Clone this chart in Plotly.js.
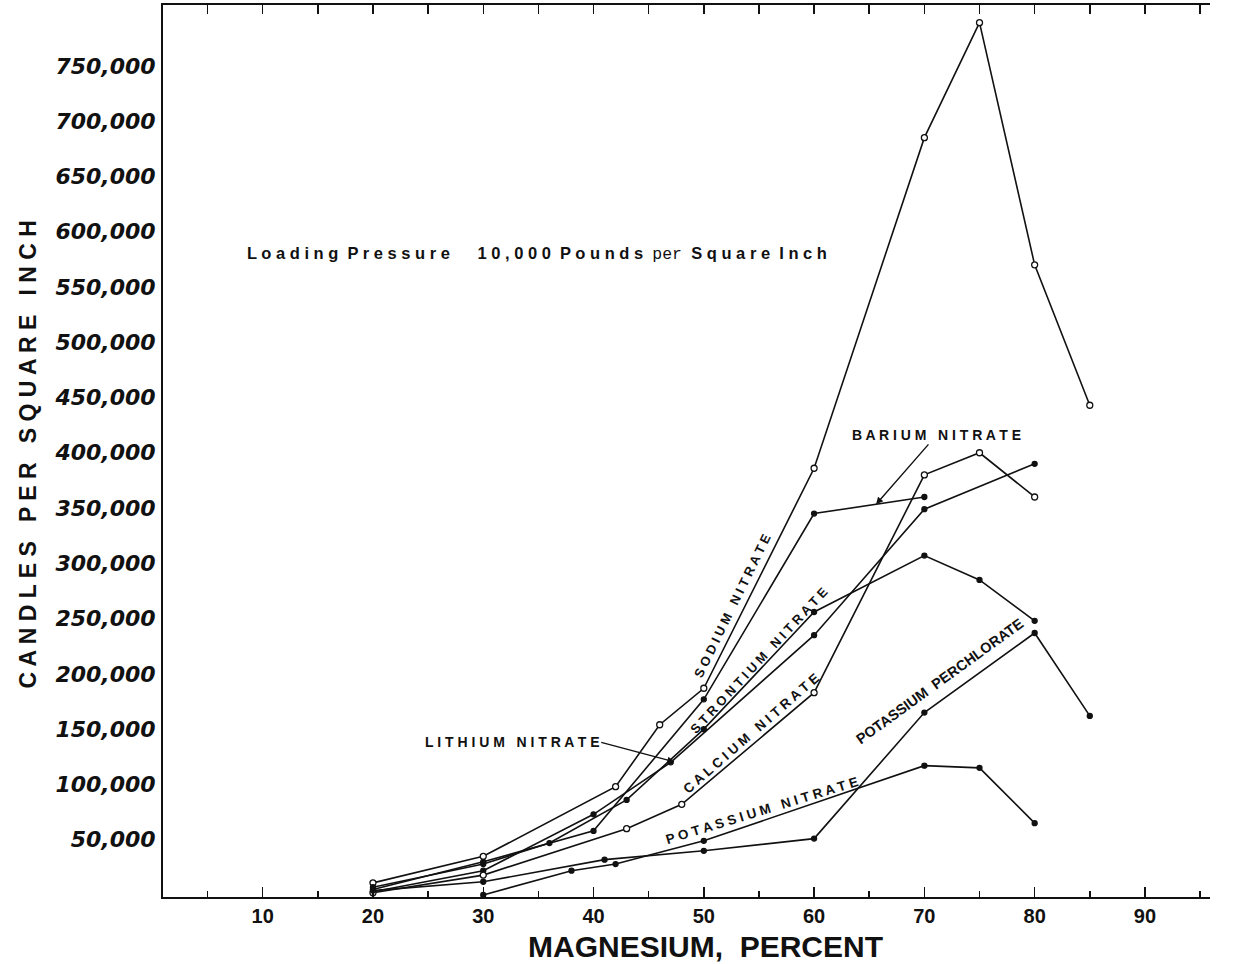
<!DOCTYPE html>
<html>
<head>
<meta charset="utf-8">
<script src="https://cdn.plot.ly/plotly-3.0.1.min.js"></script>
<style>html,body{margin:0;padding:0;background:#fff;}#chart{width:1246px;height:964px;}</style>
</head>
<body>
<div id="chart"></div>
<script>
// ---- data (magnesium percent, candles per square inch) ----
const sodiumX = [20, 30, 42, 46, 50, 60, 70, 75, 80, 85];
const sodiumY = [11000, 35000, 98000, 154000, 187000, 386000, 685000, 789000, 570000, 443000];

const bariumX = [20, 30, 40, 50, 60, 70];
const bariumY = [5000, 30000, 58000, 177000, 345000, 360000];

const lithiumX = [20, 30, 40, 47, 60, 70, 80];
const lithiumY = [3000, 22000, 73000, 120000, 235000, 349000, 390000];

const strontiumX = [20, 30, 36, 43, 50, 60, 70, 75, 80];
const strontiumY = [7000, 28000, 47000, 86000, 150000, 256000, 307000, 285000, 248000];

const calciumX = [20, 30, 43, 48, 60, 70, 75, 80];
const calciumY = [2000, 18000, 60000, 82000, 183000, 380000, 400000, 360000];

const kPerchlorateX = [20, 30, 41, 50, 60, 70, 80, 85];
const kPerchlorateY = [4000, 12000, 32000, 40000, 51000, 165000, 237000, 162000];

const kNitrateX = [30, 38, 42, 50, 70, 75, 80];
const kNitrateY = [0, 22000, 28000, 49000, 117000, 115000, 65000];

const yTickVals = [50000, 100000, 150000, 200000, 250000, 300000, 350000, 400000, 450000, 500000, 550000, 600000, 650000, 700000, 750000];
const yTickText = ["50,000", "100,000", "150,000", "200,000", "250,000", "300,000", "350,000", "400,000", "450,000", "500,000", "550,000", "600,000", "650,000", "700,000", "750,000"];
const xTickVals = [10, 20, 30, 40, 50, 60, 70, 80, 90];
const xTickText = ["10", "20", "30", "40", "50", "60", "70", "80", "90"];

// ---- styling ----
const FONT = "Liberation Sans, Arial, Helvetica, sans-serif";
const WIDE = "DejaVu Sans, Verdana, sans-serif";
function series(name, xs, ys, open) {
  return {
    type: "scatter", mode: "lines+markers", name: name, x: xs, y: ys,
    line: {color: "#111", width: 1.6},
    marker: {symbol: "circle", size: open ? 6 : 5, color: open ? "#fff" : "#111",
             line: {color: "#111", width: 1.3}},
    hoverinfo: "skip", cliponaxis: false
  };
}

const traces = [
  series("Sodium Nitrate", sodiumX, sodiumY, true),
  series("Barium Nitrate", bariumX, bariumY, false),
  series("Lithium Nitrate", lithiumX, lithiumY, false),
  series("Strontium Nitrate", strontiumX, strontiumY, false),
  series("Calcium Nitrate", calciumX, calciumY, true),
  series("Potassium Perchlorate", kPerchlorateX, kPerchlorateY, false),
  series("Potassium Nitrate", kNitrateX, kNitrateY, false),
  {type: "scatter", x: [], y: [], xaxis: "x2", yaxis: "y", showlegend: false, hoverinfo: "skip"}
];

const xRange = [0.96, 95.9];
const yRange = [-1800, 805000];

function lab(text, x, y, angle, size) {
  return {text: text, x: x, y: y, xref: "x", yref: "y", showarrow: false, textangle: angle,
          font: {family: FONT, size: size || 14, color: "#111", weight: 700}};
}

const layout = {
  width: 1246, height: 964,
  paper_bgcolor: "#fff", plot_bgcolor: "#fff",
  margin: {l: 163, r: 36, t: 5, b: 67},
  showlegend: false,
  font: {family: FONT, color: "#111"},
  xaxis: {
    range: xRange, showgrid: false, zeroline: false,
    showline: true, linecolor: "#111", linewidth: 2,
    tickmode: "array", tickvals: xTickVals, ticktext: xTickText,
    ticks: "inside", ticklen: 10, tickwidth: 1.5, tickcolor: "#111",
    minor: {tickmode: "linear", tick0: 5, dtick: 10, ticks: "inside", ticklen: 6, tickwidth: 1.5, tickcolor: "#111"},
    tickfont: {family: FONT, size: 20, weight: 700, color: "#111"}
  },
  xaxis2: {
    range: xRange, overlaying: "x", side: "top", showgrid: false, zeroline: false,
    showline: true, linecolor: "#111", linewidth: 2,
    tickmode: "linear", tick0: 0, dtick: 5, ticks: "inside", ticklen: 9, tickwidth: 1.5, tickcolor: "#111",
    showticklabels: false
  },
  yaxis: {
    range: yRange, showgrid: false, zeroline: false,
    showline: true, linecolor: "#111", linewidth: 2,
    tickmode: "array", tickvals: yTickVals, ticktext: yTickText,
    ticks: "", ticklabelstandoff: 1,
    tickfont: {family: WIDE, size: 22, weight: 700, color: "#111", style: "italic"}
  },
  annotations: [
    {text: "C A N D L E S   P E R   S Q U A R E   I N C H", xref: "paper", yref: "paper",
     x: -0.129, y: 0.497, xanchor: "center", yanchor: "middle", showarrow: false, textangle: -90,
     font: {family: FONT, size: 23, weight: 700, color: "#111"}},
    {text: "MAGNESIUM,  PERCENT", xref: "paper", yref: "paper",
     x: 0.518, y: -0.055, xanchor: "center", yanchor: "middle", showarrow: false,
     font: {family: FONT, size: 30, weight: 700, color: "#111"}},
    {text: "L o a d i n g  P r e s s u r e      1 0 , 0 0 0  P o u n d s  <span style=\"font-family:'Liberation Mono',monospace;font-weight:400\">per</span>  S q u a r e  I n c h",
     xref: "x", yref: "y", x: 34.9, y: 580000, showarrow: false,
     font: {family: FONT, size: 16.5, weight: 700, color: "#111"}},
    lab("S O D I U M   N I T R A T E", 52.6, 262000, -64, 13),
    lab("S T R O N T I U M   N I T R A T E", 55.0, 212000, -47, 13),
    lab("C A L C I U M   N I T R A T E", 54.3, 146000, -41, 13.5),
    lab("P O T A S S I U M   N I T R A T E", 55.3, 76000, -17, 13.5),
    lab("POTASSIUM  PERCHLORATE", 71.4, 194000, -36, 14.5),
    {text: "L I T H I U M   N I T R A T E", xref: "x", yref: "y", x: 47.5, y: 120000,
     ax: -75, ay: -20, axref: "pixel", ayref: "pixel",
     showarrow: true, arrowhead: 2, arrowsize: 1, arrowwidth: 1.4, arrowcolor: "#111", standoff: 2,
     xanchor: "right", font: {family: FONT, size: 14, weight: 700, color: "#111"}},
    {text: "B A R I U M   N I T R A T E", xref: "x", yref: "y", x: 65.5, y: 352000,
     ax: 62, ay: -71, axref: "pixel", ayref: "pixel",
     showarrow: true, arrowhead: 2, arrowsize: 1, arrowwidth: 1.4, arrowcolor: "#111", standoff: 2,
     font: {family: FONT, size: 14, weight: 700, color: "#111"}}
  ]
};

Plotly.newPlot("chart", traces, layout, {staticPlot: true, displayModeBar: false});
</script>
</body>
</html>
